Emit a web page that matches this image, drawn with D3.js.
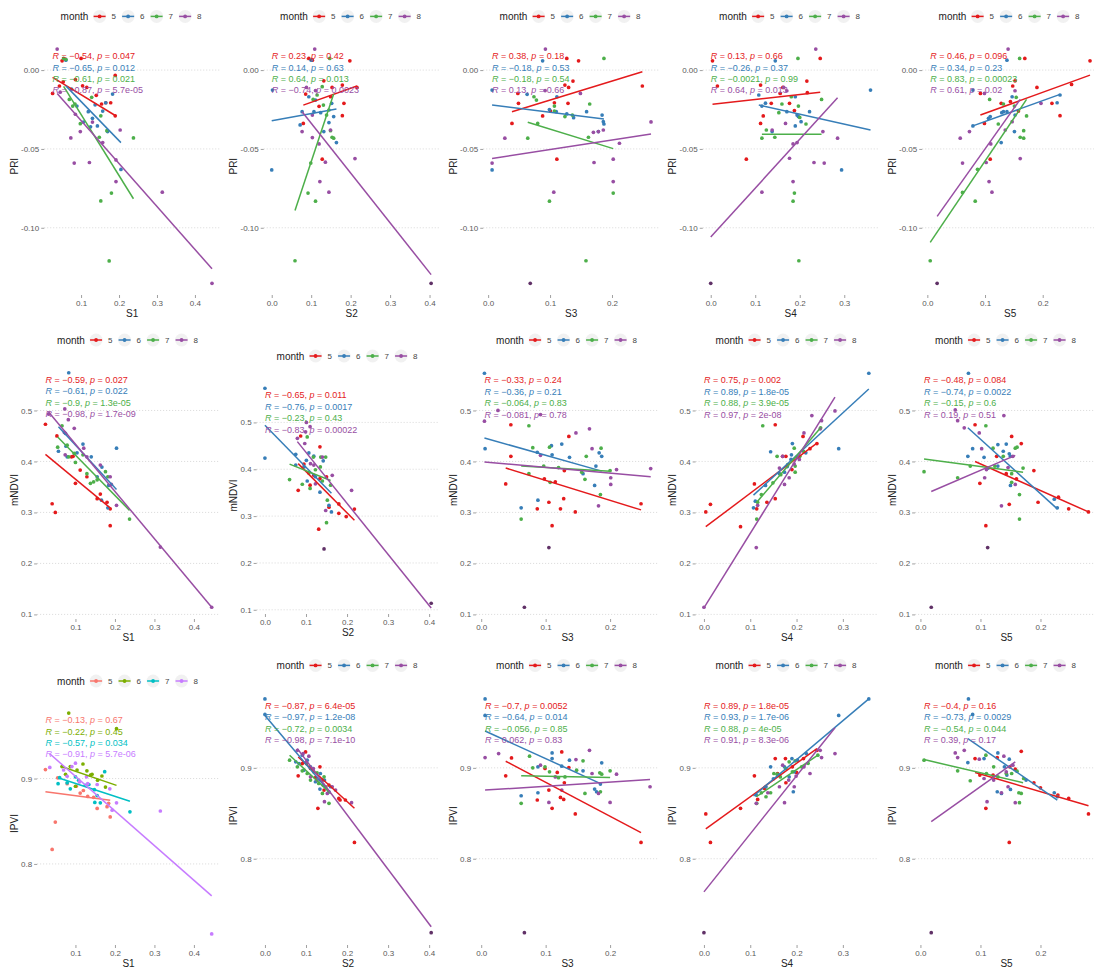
<!DOCTYPE html>
<html>
<head>
<meta charset="utf-8">
<script src="https://cdn.jsdelivr.net/npm/d3@7"></script>
<style>
  body { margin: 0; background: #fff; }
  svg { display: block; font-family: "Liberation Sans", Arial, Helvetica, sans-serif; }
</style>
</head>
<body>
<svg id="chart" width="1094" height="967"></svg>
<script>
// ---- categories -------------------------------------------------------
const months = ["5", "6", "7", "8"];
const xVars = ["S1", "S2", "S3", "S4", "S5"];
const yVars = ["PRI", "mNDVI", "IPVI"];

// tick values per axis
const yTickVals = { PRI: [-0.10, -0.05, 0.00], mNDVI: [0.1, 0.2, 0.3, 0.4, 0.5], IPVI: [0.8, 0.9] };
const yTickFmt = { PRI: ".2f", mNDVI: ".1f", IPVI: ".1f" };
const xTickVals = { S1: [0.1, 0.2, 0.3, 0.4], S2: [0, 0.1, 0.2, 0.3, 0.4], S3: [0, 0.1, 0.2], S4: [0, 0.1, 0.2, 0.3], S5: [0, 0.1, 0.2] };

// ---- observations: [month, x, y, overplotted] --------------------------
const PRI_S1 = [
[5,0.050,0.0059],[5,0.100,0.0074],[5,0.025,-0.0148],[5,0.043,-0.0101],[5,0.053,-0.0074],[5,0.115,-0.011],[5,0.154,-0.0215],[5,0.165,-0.0207],[5,0.178,-0.0207],[5,0.190,-0.029],[5,0.190,-0.0034],[5,0.104,-0.010],[5,0.140,-0.016],[5,0.085,-0.006],
[6,0.060,0.0063],[6,0.089,-0.0228],[6,0.119,-0.0264],[6,0.130,-0.0306],[6,0.143,-0.0354],[6,0.165,-0.0207],[6,0.183,-0.0152],[6,0.170,-0.039],[6,0.205,-0.063],[6,0.106,-0.033],[6,0.157,-0.026],[6,0.075,-0.012],[6,0.137,-0.022],[6,0.125,-0.036],
[7,0.054,0.0074],[7,0.060,0.0068],[7,0.069,-0.0186],[7,0.078,-0.0228],[7,0.084,-0.0215],[7,0.098,-0.034],[7,0.128,-0.0173],[7,0.148,-0.0426],[7,0.152,-0.029],[7,0.168,-0.0384],[7,0.180,-0.078],[7,0.152,-0.083],[7,0.174,-0.121],[7,0.238,-0.043],
[8,0.037,0.0133],[8,0.073,-0.043],[8,0.082,-0.059],[8,0.098,-0.039],[8,0.122,-0.0586],[8,0.130,-0.033],[8,0.157,-0.046],[8,0.192,-0.0707],[8,0.192,-0.057],[8,0.203,-0.038],[8,0.314,-0.0774],[8,0.445,-0.1352],[8,0.085,-0.028],[8,0.045,-0.014]
];
const PRI_S2 = [
[5,0.094,0.0074],[5,0.198,0.0059],[5,0.132,-0.0068],[5,0.153,-0.011],[5,0.179,-0.0095],[5,0.216,-0.011],[5,0.086,-0.0152],[5,0.183,-0.0211],[5,0.179,-0.0289],[5,0.080,-0.0338],[5,0.128,-0.0565],[5,0.103,0.0063],[5,0.149,-0.0169],[5,0.120,-0.023],
[6,0.100,0.0063],[6,0.002,-0.0127],[6,0.094,-0.0169],[6,0.077,-0.0264],[6,0.107,-0.0264],[6,0.072,-0.0348],[6,0.132,-0.039],[6,0.145,-0.0333],[6,0.152,-0.0211],[6,0.164,-0.046],[6,0.000,-0.0633],[6,0.124,-0.027],[6,0.111,-0.019],[6,0.157,-0.0295],
[7,0.147,0.0074],[7,0.105,-0.0186],[7,0.115,-0.0158],[7,0.131,-0.0222],[7,0.139,-0.0285],[7,0.149,-0.0384],[7,0.157,-0.0432],[7,0.153,-0.0426],[7,0.099,-0.059],[7,0.092,-0.078],[7,0.111,-0.0831],[7,0.059,-0.1209],[7,0.128,-0.0105],[7,0.145,-0.0253],
[8,0.109,0.0133],[8,0.103,-0.0285],[8,0.077,-0.039],[8,0.103,-0.0428],[8,0.111,-0.013],[8,0.120,-0.0468],[8,0.136,-0.0584],[8,0.122,-0.0707],[8,0.145,-0.0774],[8,0.211,-0.0561],[8,0.404,-0.1352,1],[8,0.149,-0.038],[8,0.088,-0.011]
];
const PRI_S3 = [
[5,0.127,0.0074],[5,0.146,0.0059],[5,0.137,-0.007],[5,0.124,-0.0095],[5,0.130,-0.011],[5,0.249,-0.0101],[5,0.048,-0.0148],[5,0.049,-0.0211],[5,0.1005,-0.026],[5,0.107,-0.0207],[5,0.129,-0.0211],[5,0.088,-0.0291],[5,0.0385,-0.0338],[5,0.111,-0.0565],
[6,0.088,0.0059],[6,0.0064,-0.0127],[6,0.063,-0.0154],[6,0.111,-0.0169],[6,0.110,-0.0264],[6,0.127,-0.0278],[6,0.138,-0.0302],[6,0.159,-0.0264],[6,0.184,-0.0285],[6,0.187,-0.0342],[6,0.178,-0.039],[6,0.0064,-0.0633],[6,0.186,-0.0327],[6,0.099,-0.025],
[7,0.187,0.0074],[7,0.074,-0.0169],[7,0.078,-0.019],[7,0.107,-0.0228],[7,0.124,-0.0295],[7,0.164,-0.0215],[7,0.162,-0.0426],[7,0.064,-0.0432],[7,0.202,-0.078],[7,0.099,-0.0831],[7,0.158,-0.1209],[7,0.080,-0.0338],[7,0.107,-0.026],[7,0.136,-0.0285],
[8,0.0925,0.0133],[8,0.149,-0.0148],[8,0.027,-0.0432],[8,0.0064,-0.059],[8,0.106,-0.0774],[8,0.170,-0.0395],[8,0.178,-0.039],[8,0.171,-0.0586],[8,0.202,-0.0707],[8,0.202,-0.0565],[8,0.212,-0.0464],[8,0.263,-0.0329],[8,0.068,-0.1352,1],[8,0.186,-0.038],[8,0.092,-0.013]
];
const PRI_S4 = [
[5,0.004,0.0059],[5,0.246,0.0074],[5,0.015,-0.0101],[5,0.112,-0.0095],[5,0.216,-0.007],[5,0.162,-0.011],[5,0.156,-0.0148],[5,0.217,-0.0143],[5,0.136,-0.0211],[5,0.177,-0.0211],[5,0.118,-0.0291],[5,0.188,-0.0257],[5,0.112,-0.0338],[5,0.080,-0.0565],
[6,0.145,0.0059],[6,0.359,-0.0127],[6,0.108,-0.0158],[6,0.190,-0.0169],[6,0.115,-0.0228],[6,0.171,-0.0264],[6,0.203,-0.0327],[6,0.222,-0.0264],[6,0.190,-0.0354],[6,0.197,-0.0295],[6,0.294,-0.0633],[6,0.138,-0.039],[6,0.194,-0.0285],[6,0.123,-0.021],
[7,0.196,0.0074],[7,0.249,-0.0186],[7,0.160,-0.0215],[7,0.197,-0.0228],[7,0.153,-0.027],[7,0.200,-0.03],[7,0.214,-0.0342],[7,0.125,-0.038],[7,0.115,-0.0432],[7,0.144,-0.0426],[7,0.188,-0.078],[7,0.185,-0.0831],[7,0.198,-0.1209],[7,0.181,-0.0169],
[8,0.236,0.0133],[8,0.164,-0.011],[8,0.171,-0.0131],[8,0.168,-0.0338],[8,0.138,-0.038],[8,0.252,-0.039],[8,0.285,-0.0432],[8,0.185,-0.0468],[8,0.194,-0.046],[8,0.177,-0.0559],[8,0.232,-0.0586],[8,0.255,-0.059],[8,0.115,-0.0774],[8,0.185,-0.0707],[8,0.0,-0.1352,1]
];
const PRI_S5 = [
[5,0.169,0.0074],[5,0.282,0.0059],[5,0.152,-0.0068],[5,0.148,-0.0101],[5,0.092,-0.0148],[5,0.190,-0.011],[5,0.250,-0.0091],[5,0.128,-0.0211],[5,0.158,-0.026],[5,0.216,-0.0211],[5,0.230,-0.0289],[5,0.099,-0.0338],[5,0.109,-0.0565],[5,0.144,-0.02],
[6,0.138,0.0063],[6,0.079,-0.0127],[6,0.147,-0.0169],[6,0.132,-0.0264],[6,0.106,-0.0306],[6,0.079,-0.0354],[6,0.151,-0.039],[6,0.128,-0.046],[6,0.225,-0.0207],[6,0.230,-0.0158],[6,0.138,-0.0264],[6,0.129,-0.027],[6,0.152,-0.0285],[6,0.109,-0.0295],
[7,0.160,0.0074],[7,0.108,-0.0186],[7,0.154,-0.0173],[7,0.172,-0.0291],[7,0.123,-0.0342],[7,0.161,-0.0426],[7,0.167,-0.0432],[7,0.167,-0.0384],[7,0.087,-0.0629],[7,0.061,-0.0776],[7,0.083,-0.0831],[7,0.005,-0.1209],[7,0.132,-0.0215],[7,0.151,-0.0228],
[8,0.140,0.0133],[8,0.099,-0.0148],[8,0.152,-0.0131],[8,0.057,-0.0432],[8,0.061,-0.059],[8,0.073,-0.039],[8,0.110,-0.0468],[8,0.102,-0.0586],[8,0.107,-0.0707],[8,0.112,-0.0774],[8,0.147,-0.0327],[8,0.161,-0.0561],[8,0.197,-0.0211],[8,0.017,-0.1352,1],[8,0.135,-0.038]
];

const mNDVI_S1 = [
[5,0.024,0.473],[5,0.053,0.450],[5,0.041,0.317],[5,0.049,0.300],[5,0.090,0.409],[5,0.100,0.357],[5,0.112,0.383],[5,0.155,0.327],[5,0.163,0.336],[5,0.180,0.320],[5,0.188,0.307],[5,0.188,0.274],[5,0.094,0.410],[5,0.129,0.370],
[6,0.083,0.574],[6,0.057,0.420],[6,0.076,0.430],[6,0.079,0.409],[6,0.104,0.417],[6,0.119,0.434],[6,0.140,0.409],[6,0.167,0.389],[6,0.166,0.324],[6,0.182,0.309],[6,0.204,0.426],[6,0.184,0.353],[6,0.155,0.370],[6,0.075,0.455],
[7,0.055,0.428],[7,0.066,0.470],[7,0.083,0.409],[7,0.119,0.413],[7,0.129,0.376],[7,0.146,0.360],[7,0.176,0.380],[7,0.182,0.370],[7,0.237,0.287],[7,0.155,0.364],[7,0.097,0.416],[7,0.079,0.432],[7,0.138,0.357],[7,0.100,0.398],
[8,0.032,0.493],[8,0.073,0.503],[8,0.082,0.482],[8,0.097,0.465],[8,0.072,0.457],[8,0.074,0.413],[8,0.121,0.426],[8,0.163,0.393],[8,0.188,0.370],[8,0.191,0.355],[8,0.204,0.314],[8,0.315,0.232],[8,0.445,0.114],[8,0.129,0.409]
];
const mNDVI_S2 = [
[5,0.087,0.471],[5,0.081,0.355],[5,0.110,0.366],[5,0.134,0.448],[5,0.134,0.380],[5,0.119,0.387],[5,0.131,0.272],[5,0.180,0.326],[5,0.180,0.306],[5,0.198,0.299],[5,0.218,0.315],[5,0.150,0.384],[5,0.156,0.319],[5,0.095,0.411],
[6,0.0,0.573],[6,0.0,0.424],[6,0.075,0.432],[6,0.101,0.419],[6,0.107,0.435],[6,0.119,0.428],[6,0.142,0.418],[6,0.134,0.351],[6,0.156,0.323],[6,0.162,0.309],[6,0.103,0.375],[6,0.075,0.409],[6,0.123,0.384],[6,0.095,0.405],
[7,0.060,0.378],[7,0.091,0.368],[7,0.103,0.469],[7,0.118,0.426],[7,0.135,0.405],[7,0.148,0.426],[7,0.152,0.334],[7,0.150,0.286],[7,0.160,0.366],[7,0.110,0.359],[7,0.136,0.426],[7,0.107,0.392],[7,0.123,0.399],[7,0.140,0.375],
[8,0.079,0.466],[8,0.101,0.500],[8,0.110,0.491],[8,0.099,0.480],[8,0.097,0.455],[8,0.111,0.412],[8,0.123,0.369],[8,0.140,0.426],[8,0.164,0.387],[8,0.148,0.312],[8,0.211,0.355],[8,0.144,0.230,1],[8,0.405,0.114,1],[8,0.119,0.409]
];
const mNDVI_S3 = [
[5,0.046,0.472],[5,0.046,0.410],[5,0.038,0.356],[5,0.087,0.307],[5,0.105,0.320],[5,0.110,0.274],[5,0.098,0.366],[5,0.123,0.307],[5,0.128,0.327],[5,0.136,0.449],[5,0.129,0.382],[5,0.146,0.301],[5,0.248,0.317],[5,0.115,0.360],
[6,0.005,0.573],[6,0.006,0.425],[6,0.062,0.309],[6,0.088,0.324],[6,0.087,0.418],[6,0.109,0.431],[6,0.110,0.413],[6,0.125,0.434],[6,0.137,0.408],[6,0.158,0.376],[6,0.176,0.353],[6,0.178,0.391],[6,0.183,0.417],[6,0.187,0.410],
[7,0.062,0.287],[7,0.074,0.470],[7,0.080,0.427],[7,0.074,0.376],[7,0.097,0.391],[7,0.106,0.428],[7,0.107,0.359],[7,0.161,0.365],[7,0.163,0.410],[7,0.185,0.335],[7,0.186,0.426],[7,0.120,0.388],[7,0.156,0.379],[7,0.200,0.382],
[8,0.005,0.479],[8,0.026,0.500],[8,0.092,0.412],[8,0.147,0.456],[8,0.168,0.464],[8,0.172,0.425],[8,0.182,0.313],[8,0.201,0.368],[8,0.201,0.355],[8,0.210,0.384],[8,0.263,0.386],[8,0.105,0.231,1],[8,0.067,0.114,1],[8,0.092,0.492]
];
const mNDVI_S4 = [
[5,0.004,0.301],[5,0.014,0.316],[5,0.079,0.272],[5,0.109,0.356],[5,0.114,0.307],[5,0.136,0.320],[5,0.154,0.472],[5,0.170,0.410],[5,0.177,0.410],[5,0.214,0.449],[5,0.229,0.425],[5,0.244,0.435],[5,0.154,0.327],[5,0.190,0.384],
[6,0.356,0.573],[6,0.291,0.425],[6,0.144,0.419],[6,0.133,0.353],[6,0.111,0.322],[6,0.107,0.309],[6,0.191,0.435],[6,0.189,0.413],[6,0.201,0.409],[6,0.174,0.379],[6,0.220,0.417],[6,0.188,0.404],[6,0.163,0.376],[6,0.180,0.390],
[7,0.114,0.287],[7,0.124,0.335],[7,0.127,0.470],[7,0.158,0.410],[7,0.166,0.374],[7,0.181,0.394],[7,0.195,0.426],[7,0.197,0.391],[7,0.197,0.379],[7,0.207,0.410],[7,0.252,0.466],[7,0.116,0.320],[7,0.149,0.358],[7,0.215,0.420],
[8,0.0,0.114],[8,0.113,0.231],[8,0.116,0.314],[8,0.163,0.387],[8,0.174,0.355],[8,0.184,0.368],[8,0.170,0.410],[8,0.216,0.456],[8,0.233,0.490],[8,0.251,0.464],[8,0.254,0.480],[8,0.283,0.499],[8,0.206,0.404],[8,0.195,0.395]
];
const mNDVI_S5 = [
[5,0.091,0.472],[5,0.099,0.357],[5,0.109,0.274],[5,0.127,0.410],[5,0.152,0.449],[5,0.168,0.435],[5,0.148,0.316],[5,0.189,0.382],[5,0.196,0.320],[5,0.247,0.307],[5,0.280,0.301],[5,0.160,0.366],[5,0.143,0.376],[5,0.230,0.330],
[6,0.080,0.573],[6,0.079,0.410],[6,0.087,0.425],[6,0.106,0.408],[6,0.129,0.433],[6,0.143,0.434],[6,0.138,0.420],[6,0.148,0.415],[6,0.150,0.353],[6,0.223,0.326],[6,0.228,0.309],[6,0.129,0.391],[6,0.113,0.387],[6,0.150,0.410],
[7,0.006,0.380],[7,0.062,0.368],[7,0.083,0.391],[7,0.109,0.470],[7,0.121,0.426],[7,0.158,0.426],[7,0.161,0.428],[7,0.152,0.376],[7,0.152,0.359],[7,0.165,0.335],[7,0.165,0.287],[7,0.171,0.387],[7,0.138,0.410],[7,0.124,0.391],
[8,0.058,0.501],[8,0.062,0.480],[8,0.073,0.466],[8,0.098,0.456],[8,0.102,0.425],[8,0.107,0.368],[8,0.112,0.231,1],[8,0.018,0.114,1],[8,0.139,0.490],[8,0.135,0.313],[8,0.158,0.355],[8,0.146,0.388],[8,0.110,0.384],[8,0.154,0.410]
];

const IPVI_S1 = [
[5,0.024,0.9105],[5,0.041,0.817],[5,0.049,0.849],[5,0.055,0.9008],[5,0.102,0.891],[5,0.112,0.883],[5,0.131,0.879],[5,0.155,0.865],[5,0.184,0.871],[5,0.188,0.855],[5,0.146,0.878],[5,0.079,0.894],[5,0.180,0.867],[5,0.120,0.886],
[6,0.083,0.9767],[6,0.204,0.9584],[6,0.066,0.914],[6,0.104,0.910],[6,0.119,0.917],[6,0.129,0.909],[6,0.142,0.905],[6,0.156,0.898],[6,0.100,0.891],[6,0.087,0.914],[6,0.167,0.903],[6,0.176,0.890],[6,0.138,0.904],[6,0.075,0.905],
[7,0.056,0.894],[7,0.060,0.901],[7,0.079,0.895],[7,0.087,0.888],[7,0.100,0.902],[7,0.134,0.893],[7,0.148,0.887],[7,0.149,0.872],[7,0.174,0.908],[7,0.163,0.8716],[7,0.238,0.861],[7,0.108,0.898],[7,0.125,0.892],[7,0.155,0.880],
[8,0.035,0.913],[8,0.100,0.918],[8,0.070,0.910],[8,0.079,0.9027],[8,0.131,0.894],[8,0.155,0.893],[8,0.187,0.888],[8,0.204,0.8716],[8,0.193,0.863],[8,0.315,0.862],[8,0.445,0.718],[8,0.091,0.914],[8,0.128,0.902],[8,0.110,0.896]
];
const IPVI_S2 = [
[5,0.081,0.8912],[5,0.099,0.9175],[5,0.111,0.8993],[5,0.134,0.9011],[5,0.123,0.8894],[5,0.129,0.8555],[5,0.156,0.881],[5,0.180,0.8664],[5,0.183,0.8646],[5,0.196,0.8646],[5,0.218,0.8179],[5,0.140,0.8865],[5,0.144,0.8755],[5,0.091,0.9047],
[6,0.0,0.9759],[6,0.0,0.9588],[6,0.075,0.9066],[6,0.091,0.9139],[6,0.095,0.8974],[6,0.111,0.9011],[6,0.134,0.8766],[6,0.145,0.8865],[6,0.156,0.8737],[6,0.160,0.8792],[6,0.083,0.9047],[6,0.135,0.8938],[6,0.123,0.8847],[6,0.103,0.9084],
[7,0.060,0.9084],[7,0.091,0.8967],[7,0.101,0.9047],[7,0.111,0.8865],[7,0.127,0.8945],[7,0.135,0.8865],[7,0.144,0.8901],[7,0.148,0.8792],[7,0.156,0.861],[7,0.119,0.8956],[7,0.079,0.9011],[7,0.131,0.8828],[7,0.103,0.8938],[7,0.140,0.8719],
[8,0.079,0.9193],[8,0.093,0.9157],[8,0.107,0.9128],[8,0.118,0.8993],[8,0.142,0.881],[8,0.145,0.8628],[8,0.164,0.8792],[8,0.211,0.8617],[8,0.405,0.7186,1],[8,0.111,0.8901],[8,0.127,0.8865],[8,0.152,0.8719],[8,0.172,0.8755],[8,0.100,0.9060]
];
const IPVI_S3 = [
[5,0.038,0.8912],[5,0.047,0.9109],[5,0.087,0.8646],[5,0.099,0.8993],[5,0.105,0.8755],[5,0.110,0.8555],[5,0.123,0.8675],[5,0.125,0.9175],[5,0.128,0.8653],[5,0.129,0.8836],[5,0.136,0.9004],[5,0.146,0.8493],[5,0.248,0.8179],[5,0.118,0.8950],
[6,0.006,0.9759],[6,0.006,0.9577],[6,0.062,0.8693],[6,0.088,0.8726],[6,0.088,0.9011],[6,0.110,0.9102],[6,0.110,0.9164],[6,0.125,0.9018],[6,0.137,0.9084],[6,0.158,0.8967],[6,0.176,0.8766],[6,0.179,0.8737],[6,0.187,0.9055],[6,0.185,0.8821],
[7,0.062,0.861],[7,0.075,0.9128],[7,0.080,0.9],[7,0.099,0.9011],[7,0.106,0.8956],[7,0.120,0.8891],[7,0.158,0.9077],[7,0.161,0.8719],[7,0.184,0.8945],[7,0.185,0.8737],[7,0.200,0.8967],[7,0.187,0.8931],[7,0.148,0.8974],[7,0.130,0.8900],
[8,0.006,0.9113],[8,0.027,0.9157],[8,0.092,0.9029],[8,0.105,0.862],[8,0.147,0.9091],[8,0.168,0.9193],[8,0.182,0.8719],[8,0.200,0.862],[8,0.210,0.8931],[8,0.262,0.8792],[8,0.067,0.7186,1],[8,0.172,0.8938],[8,0.125,0.8755],[8,0.115,0.8900]
];
const IPVI_S4 = [
[5,0.004,0.8493],[5,0.014,0.8179],[5,0.079,0.8555],[5,0.109,0.8912],[5,0.116,0.8653],[5,0.154,0.9102],[5,0.176,0.9102],[5,0.177,0.8836],[5,0.191,0.9011],[5,0.215,0.9102],[5,0.244,0.9193],[5,0.159,0.8938],[5,0.131,0.8774],[5,0.200,0.8950],
[6,0.356,0.9759],[6,0.291,0.9577],[6,0.144,0.9011],[6,0.190,0.9102],[6,0.193,0.8737],[6,0.113,0.8701],[6,0.221,0.9157],[6,0.202,0.9084],[6,0.184,0.8901],[6,0.163,0.892],[6,0.134,0.8792],[6,0.195,0.8956],[6,0.174,0.9011],[6,0.150,0.8880],
[7,0.114,0.861],[7,0.124,0.8726],[7,0.144,0.8726],[7,0.151,0.8938],[7,0.158,0.8931],[7,0.177,0.8993],[7,0.191,0.8956],[7,0.197,0.9077],[7,0.211,0.9011],[7,0.246,0.9139],[7,0.184,0.9066],[7,0.134,0.8682],[7,0.165,0.8900],[7,0.225,0.9050],
[8,0.0,0.7186,1],[8,0.113,0.861],[8,0.138,0.8726],[8,0.163,0.8792],[8,0.170,0.9029],[8,0.174,0.8617],[8,0.183,0.8865],[8,0.199,0.8909],[8,0.229,0.8938],[8,0.251,0.9193],[8,0.254,0.9113],[8,0.283,0.9157],[8,0.216,0.9011],[8,0.195,0.8792]
];
const IPVI_S5 = [
[5,0.091,0.9102],[5,0.099,0.892],[5,0.109,0.8555],[5,0.128,0.9113],[5,0.158,0.8985],[5,0.168,0.9182],[5,0.148,0.8179],[5,0.189,0.8836],[5,0.229,0.8701],[5,0.247,0.8664],[5,0.280,0.8493],[5,0.149,0.9011],[5,0.121,0.892],[5,0.200,0.8780],
[6,0.080,0.9759],[6,0.087,0.9588],[6,0.079,0.9058],[6,0.106,0.9102],[6,0.129,0.9164],[6,0.128,0.8737],[6,0.148,0.9095],[6,0.144,0.892],[6,0.150,0.8763],[6,0.223,0.8726],[6,0.228,0.8682],[6,0.140,0.9011],[6,0.135,0.8719],[6,0.176,0.8865],
[7,0.006,0.9084],[7,0.062,0.8967],[7,0.083,0.8858],[7,0.109,0.9139],[7,0.122,0.9011],[7,0.152,0.8938],[7,0.161,0.8964],[7,0.164,0.8726],[7,0.165,0.8617],[7,0.172,0.8883],[7,0.129,0.8901],[7,0.143,0.8938],[7,0.168,0.8719],[7,0.110,0.8938],
[8,0.058,0.9164],[8,0.062,0.9113],[8,0.073,0.9193],[8,0.098,0.9095],[8,0.106,0.8883],[8,0.111,0.8628],[8,0.135,0.8726],[8,0.139,0.9128],[8,0.146,0.8792],[8,0.158,0.8617],[8,0.018,0.7186,1],[8,0.154,0.9029],[8,0.122,0.8865],[8,0.143,0.8956]
];

// ---- fitted lines per month: [x0, y0, x1, y1], one set per S column ---
const fitPRI = [
  [[0.025,-0.0046,0.190,-0.0288],[0.060,-0.010,0.205,-0.046],[0.054,-0.0103,0.238,-0.0816],[0.037,-0.0148,0.445,-0.126]],
  [[0.080,-0.0222,0.216,-0.0101],[0.0,-0.0321,0.164,-0.0247],[0.059,-0.089,0.157,-0.0152],[0.077,-0.0264,0.404,-0.1297]],
  [[0.0385,-0.0264,0.249,-0.0011],[0.0064,-0.0222,0.187,-0.031],[0.064,-0.0331,0.202,-0.0498],[0.0064,-0.0561,0.263,-0.0405]],
  [[0.004,-0.0217,0.246,-0.0141],[0.108,-0.0222,0.359,-0.038],[0.115,-0.0407,0.249,-0.0407],[0.0,-0.1059,0.285,-0.0175]],
  [[0.092,-0.0285,0.282,-0.0032],[0.079,-0.0354,0.230,-0.0154],[0.005,-0.1093,0.172,-0.0186],[0.017,-0.0928,0.161,-0.0186]]
];
const fitMNDVI = [
  [[0.024,0.414,0.188,0.309],[0.057,0.468,0.204,0.345],[0.055,0.448,0.237,0.304],[0.032,0.497,0.445,0.114]],
  [[0.081,0.412,0.218,0.291],[0.0,0.494,0.162,0.349],[0.060,0.411,0.160,0.376],[0.079,0.459,0.405,0.104]],
  [[0.038,0.387,0.248,0.305],[0.005,0.446,0.187,0.381],[0.062,0.391,0.200,0.381],[0.005,0.399,0.263,0.370]],
  [[0.004,0.272,0.244,0.436],[0.107,0.334,0.356,0.542],[0.114,0.320,0.252,0.466],[0.0,0.113,0.283,0.526]],
  [[0.091,0.400,0.280,0.301],[0.079,0.466,0.228,0.307],[0.006,0.405,0.171,0.379],[0.018,0.341,0.158,0.412]]
];
const fitIPVI = [
  [[0.024,0.8844,0.188,0.8747],[0.063,0.9144,0.204,0.892],[0.056,0.901,0.238,0.8735],[0.035,0.929,0.445,0.7626]],
  [[0.081,0.912,0.218,0.8555],[0.0,0.9577,0.160,0.8719],[0.060,0.9139,0.160,0.8719],[0.079,0.9212,0.405,0.7252]],
  [[0.038,0.9073,0.248,0.8288],[0.006,0.9405,0.187,0.8821],[0.062,0.8912,0.200,0.8894],[0.006,0.8755,0.262,0.8872]],
  [[0.004,0.8328,0.244,0.9212],[0.107,0.869,0.356,0.9759],[0.113,0.8682,0.246,0.9139],[0.0,0.7635,0.283,0.9442]],
  [[0.091,0.8949,0.280,0.8584],[0.079,0.9321,0.228,0.8646],[0.006,0.9091,0.171,0.8836],[0.018,0.8409,0.158,0.9066]]
];

// ---- correlation labels (R, p) per S column and month -------------------
const corR_PRI = [[-0.54,-0.65,-0.61,-0.87],[0.23,0.14,0.64,-0.74],[0.38,-0.18,-0.18,0.13],[0.13,-0.26,-0.0021,0.64],[0.46,0.34,0.83,0.61]];
const corP_PRI = [["0.047","0.012","0.021","5.7e-05"],["0.42","0.63","0.013","0.0023"],["0.18","0.53","0.54","0.66"],["0.66","0.37","0.99","0.013"],["0.096","0.23","0.00023","0.02"]];
const corR_MNDVI = [[-0.59,-0.61,-0.9,-0.98],[-0.65,-0.76,-0.23,-0.83],[-0.33,-0.36,-0.064,-0.081],[0.75,0.89,0.88,0.97],[-0.48,-0.74,-0.15,0.19]];
const corP_MNDVI = [["0.027","0.022","1.3e-05","1.7e-09"],["0.011","0.0017","0.43","0.00022"],["0.24","0.21","0.83","0.78"],["0.002","1.8e-05","3.9e-05","2e-08"],["0.084","0.0022","0.6","0.51"]];
const corR_IPVI = [[-0.13,-0.22,-0.57,-0.91],[-0.87,-0.97,-0.72,-0.98],[-0.7,-0.64,-0.056,0.062],[0.89,0.93,0.88,0.91],[-0.4,-0.73,-0.54,0.39]];
const corP_IPVI = [["0.67","0.45","0.034","5.7e-06"],["6.4e-05","1.2e-08","0.0034","7.1e-10"],["0.0052","0.014","0.85","0.83"],["1.8e-05","1.7e-06","4e-05","8.3e-06"],["0.16","0.0029","0.044","0.17"]];

// ---- palettes -----------------------------------------------------------
const set1 = ["#E41A1C", "#377EB8", "#4DAF4A", "#984EA3"];
const huePal = ["#F8766D", "#7CAE00", "#00BFC4", "#C77CFF"];

// ---- assemble panels ----------------------------------------------------
const pointSets = {
  PRI: [PRI_S1, PRI_S2, PRI_S3, PRI_S4, PRI_S5],
  mNDVI: [mNDVI_S1, mNDVI_S2, mNDVI_S3, mNDVI_S4, mNDVI_S5],
  IPVI: [IPVI_S1, IPVI_S2, IPVI_S3, IPVI_S4, IPVI_S5]
};
const fitSets = { PRI: fitPRI, mNDVI: fitMNDVI, IPVI: fitIPVI };
const rSets = { PRI: corR_PRI, mNDVI: corR_MNDVI, IPVI: corR_IPVI };
const pSets = { PRI: corP_PRI, mNDVI: corP_MNDVI, IPVI: corP_IPVI };

// page layout
const colStart = [0, 219.5, 439, 658.5, 878];
const colWidth = 220;
const panelTop = [[37.4, 37.4, 37.4, 37.4, 37.4], [361, 377, 361, 361, 361], [702, 686.4, 686.4, 686.4, 686.4]];
const panelBottom = [[295, 295, 295, 295, 295], [619, 614, 619, 619, 619], [945, 945, 945, 945, 945]];

const svg = d3.select("#chart");
const FONT = '"Liberation Sans", Arial, Helvetica, sans-serif';

function expand5([a, b]) { const d = (b - a) * 0.05; return [a - d, b + d]; }
const hyphen = s => s.replace(/\u2212/g, "-");
const minusSign = v => String(v).replace("-", "\u2212");

// shared domains: x per S column, y per index row
const xDomains = xVars.map((_, c) =>
  expand5(d3.extent(yVars.flatMap(v => pointSets[v][c]), d => d[1])));
const yDomains = yVars.map(v =>
  expand5(d3.extent(pointSets[v].flat(), d => d[2])));

// width of the widest y tick label in each row (sets the left margin)
const measure = svg.append("text").attr("font-size", 8).attr("font-family", FONT);
const labelWidths = yVars.map(v => d3.max(yTickVals[v], t => {
  measure.text(hyphen(d3.format(yTickFmt[v])(t)));
  return measure.node().getComputedTextLength();
}));
measure.remove();

yVars.forEach((yv, r) => {
  xVars.forEach((xv, c) => {
    const pal = (r === 2 && c === 0) ? huePal : set1;
    const colorOf = m => pal[months.indexOf(String(m))];
    const top = panelTop[r][c], bottom = panelBottom[r][c];
    const left = colStart[c] + 26 + labelWidths[r];
    const right = colStart[c] + colWidth;

    const x = d3.scaleLinear().domain(xDomains[c]).range([left, right]);
    const y = d3.scaleLinear().domain(yDomains[r]).range([bottom, top]);
    const g = svg.append("g").attr("class", `panel ${yv}-${xv}`);

    // dotted horizontal grid
    g.append("g").selectAll("line").data(yTickVals[yv]).join("line")
      .attr("x1", left).attr("x2", right)
      .attr("y1", d => y(d)).attr("y2", d => y(d))
      .attr("stroke", "#cfcfcf").attr("stroke-width", 0.8)
      .attr("stroke-dasharray", "1,2");

    // points
    const pts = pointSets[yv][c];
    g.append("g").selectAll("circle").data(pts).join("circle")
      .attr("cx", d => x(d[1])).attr("cy", d => y(d[2]))
      .attr("r", 1.85)
      .attr("fill", d => d[3] ? d3.color(colorOf(d[0])).darker(1.3) : colorOf(d[0]));

    // fitted lines
    const line = d3.line().x(d => x(d[0])).y(d => y(d[1]));
    g.append("g").selectAll("path").data(fitSets[yv][c]).join("path")
      .attr("d", f => line([[f[0], f[1]], [f[2], f[3]]]))
      .attr("fill", "none")
      .attr("stroke", (f, i) => pal[i])
      .attr("stroke-width", 1.5);

    // correlation labels
    const xMin = d3.min(pts, d => d[1]);
    const yMax = d3.max(pts, d => d[2]);
    months.forEach((m, i) => {
      const t = g.append("text")
        .attr("x", x(xMin))
        .attr("y", y(yMax) + 7 + i * 11.4)
        .attr("dy", "0.35em")
        .attr("font-size", 9)
        .attr("font-family", FONT)
        .attr("fill", pal[i]);
      t.append("tspan").attr("font-style", "italic").text("R");
      t.append("tspan").text(" = " + minusSign(rSets[yv][c][i]) + ", ");
      t.append("tspan").attr("font-style", "italic").text("p");
      t.append("tspan").text(" = " + pSets[yv][c][i]);
    });

    // axes
    const styleAxis = sel => {
      sel.select(".domain").remove();
      sel.selectAll(".tick line").attr("stroke", "#777").attr("stroke-width", 0.7);
      sel.selectAll(".tick text").attr("fill", "#5a5a5a").attr("font-size", 8).attr("font-family", FONT);
    };
    g.append("g").attr("transform", `translate(${left},0)`)
      .call(d3.axisLeft(y).tickValues(yTickVals[yv])
        .tickFormat(v => hyphen(d3.format(yTickFmt[yv])(v)))
        .tickSize(3).tickPadding(2))
      .call(styleAxis);
    g.append("g").attr("transform", `translate(0,${bottom})`)
      .call(d3.axisBottom(x).tickValues(xTickVals[xv])
        .tickFormat(v => d3.format(".1f")(v))
        .tickSize(3).tickPadding(2))
      .call(styleAxis);

    // axis titles
    g.append("text")
      .attr("x", (left + right) / 2).attr("y", bottom + 18).attr("dy", "0.35em")
      .attr("text-anchor", "middle").attr("font-size", 10).attr("font-family", FONT)
      .attr("fill", "#222").text(xv);
    g.append("text")
      .attr("transform", `translate(${colStart[c] + 14},${(top + bottom) / 2}) rotate(-90)`)
      .attr("dy", "0.35em")
      .attr("text-anchor", "middle").attr("font-size", 10).attr("font-family", FONT)
      .attr("fill", "#222").text(yv);

    // legend
    const lg = g.append("g")
      .attr("transform", `translate(${(left + right) / 2 - 71.5},${top - 21})`);
    lg.append("text").attr("x", 0).attr("dy", "0.35em")
      .attr("font-size", 10).attr("font-family", FONT).attr("fill", "#222").text("month");
    months.forEach((m, i) => {
      const kx = 39 + i * 28.5;
      lg.append("circle").attr("cx", kx).attr("cy", 0).attr("r", 6.5)
        .attr("fill", "#e4e4e4").attr("fill-opacity", 0.5);
      lg.append("line").attr("x1", kx - 6).attr("x2", kx + 6).attr("y1", 0).attr("y2", 0)
        .attr("stroke", pal[i]).attr("stroke-width", 1.5);
      lg.append("circle").attr("cx", kx).attr("cy", 0).attr("r", 1.9).attr("fill", pal[i]);
      lg.append("text").attr("x", kx + 12).attr("dy", "0.35em")
        .attr("font-size", 8).attr("font-family", FONT).attr("fill", "#444").text(m);
    });
  });
});
</script>
</body>
</html>
